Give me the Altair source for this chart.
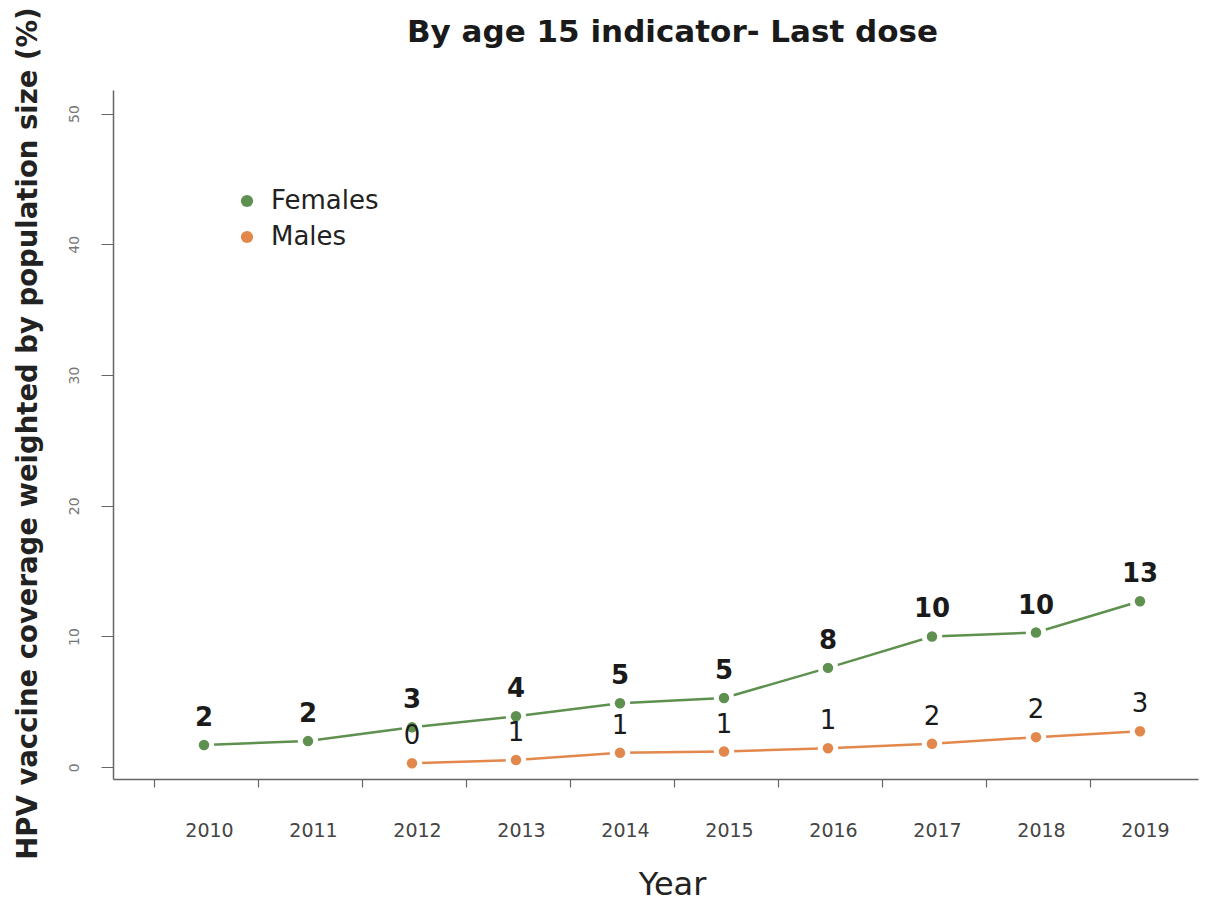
import altair as alt
import pandas as pd

years = [2010, 2011, 2012, 2013, 2014, 2015, 2016, 2017, 2018, 2019]
female_values = [1.7, 2.0, 3.05, 3.9, 4.9, 5.3, 7.6, 10.0, 10.3, 12.7]
female_labels = ["2", "2", "3", "4", "5", "5", "8", "10", "10", "13"]
male_years = [2012, 2013, 2014, 2015, 2016, 2017, 2018, 2019]
male_values = [0.3, 0.55, 1.1, 1.2, 1.45, 1.8, 2.3, 2.75]
male_labels = ["0", "1", "1", "1", "1", "2", "2", "3"]
y_ticks = [0, 10, 20, 30, 40, 50]
series = ["Females", "Males"]
colors = ["#5e9150", "#e2884c"]

df = pd.concat([
    pd.DataFrame({"year": years, "value": female_values, "label": female_labels, "sex": "Females"}),
    pd.DataFrame({"year": male_years, "value": male_values, "label": male_labels, "sex": "Males"}),
])

FONT = "DejaVu Sans"

x = alt.X("year:Q",
          scale=alt.Scale(domain=[2009.125, 2019.558], nice=False, zero=False),
          axis=alt.Axis(values=years, format="d", title="Year", grid=False,
                        tickOffset=-50, labelOffset=55, tickSize=8,
                        labelPadding=34, labelFontSize=19, labelColor="#444",
                        labelFont=FONT, tickColor="#666", domainColor="#666",
                        domainWidth=1.5, tickWidth=1.2,
                        titleFont=FONT, titleFontSize=32, titleFontWeight="normal",
                        titleColor="#222", titleX=559, titleY=105,
                        titleBaseline="middle", titleAlign="center"))
y = alt.Y("value:Q",
          scale=alt.Scale(domain=[-0.9, 51.8], nice=False, zero=False),
          axis=alt.Axis(values=y_ticks, title="HPV vaccine coverage weighted by population size (%)",
                        grid=False, tickSize=12, labelAngle=270, labelPadding=20,
                        labelFontSize=14, labelColor="#777", labelFont=FONT,
                        tickColor="#666", domainColor="#666", domainWidth=1.5,
                        titleFont=FONT, titleFontSize=27.5, titleFontWeight="bold",
                        titleColor="#222", titleX=-85, titleY=343, titleAngle=270,
                        titleBaseline="middle", titleAlign="center"))
legend = alt.Legend(title=None, orient="none", legendX=121, legendY=98,
                    symbolType="circle", symbolSize=150, symbolStrokeWidth=0,
                    labelFontSize=26, labelFont=FONT, labelColor="#222",
                    rowPadding=10, labelOffset=11, padding=0)
color = alt.Color("sex:N", scale=alt.Scale(domain=series, range=colors), legend=legend)

base = alt.Chart(df)

lines = base.mark_line(strokeWidth=2.5).encode(x=x, y=y, color=color, detail="sex:N")
gaps = base.mark_circle(size=420, opacity=1, color="white").encode(x=x, y=y)
points = base.mark_circle(size=110, opacity=1).encode(x=x, y=y, color=color)
f_text = base.transform_filter(alt.datum.sex == "Females").mark_text(
    dy=-27, fontSize=26, fontWeight="bold", font=FONT, color="#1a1a1a").encode(
    x=x, y=y, text="label:N")
m_text = base.transform_filter(alt.datum.sex == "Males").mark_text(
    dy=-27, fontSize=26, fontWeight="normal", font=FONT, color="#1a1a1a").encode(
    x=x, y=y, text="label:N")

chart = alt.layer(lines, gaps, points, f_text, m_text).properties(
    width=1085, height=689,
    title=alt.TitleParams("By age 15 indicator- Last dose", font=FONT, fontSize=31,
                          fontWeight="bold", color="#1a1a1a", anchor="middle",
                          dx=17, dy=42, offset=0),
    autosize=alt.AutoSizeParams(type="none"),
    padding={"left": 105, "top": 82, "right": 14, "bottom": 128},
    background="white",
).configure_view(stroke=None)

chart.save("out.html", embed_options={"renderer": "svg", "actions": False})
